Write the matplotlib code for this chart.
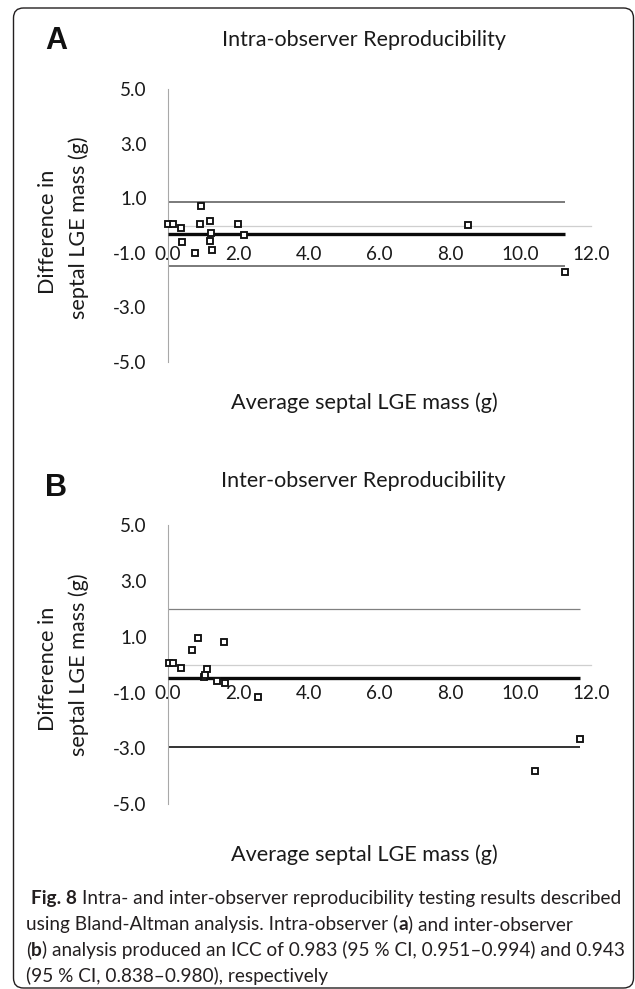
import matplotlib
matplotlib.use("Agg")
import matplotlib.pyplot as plt
from matplotlib.patches import FancyBboxPatch
from matplotlib.transforms import IdentityTransform
from matplotlib.ticker import FormatStrFormatter

plt.rcParams['axes.unicode_minus'] = False

# ---------------- data ----------------
intra_avg = [0.01, 0.13, 0.37, 0.39, 0.78, 0.94, 0.91, 1.19, 1.23, 1.20, 1.25, 1.99, 2.15, 8.50, 11.26]
intra_diff = [0.04, 0.04, -0.08, -0.62, -1.01, 0.71, 0.06, 0.16, -0.27, -0.58, -0.89, 0.04, -0.34, 0.02, -1.69]
intra_mean = -0.30
intra_upper = 0.86
intra_lower = -1.47

inter_avg = [0.02, 0.15, 0.38, 0.69, 0.86, 1.59, 1.10, 1.03, 1.06, 1.38, 1.62, 2.56, 10.40, 11.68]
inter_diff = [0.05, 0.05, -0.13, 0.53, 0.95, 0.80, -0.17, -0.43, -0.36, -0.60, -0.67, -1.15, -3.82, -2.66]
inter_mean = -0.49
inter_upper = 2.00
inter_lower = -2.96

x_ticks = [0, 2, 4, 6, 8, 10, 12]
y_ticks = [-5, -3, -1, 1, 3, 5]
titles = ["Intra-observer Reproducibility", "Inter-observer Reproducibility"]
panel_letters = ["A", "B"]
x_label = "Average septal LGE mass (g)"
y_label_lines = ["Difference in", "septal LGE mass (g)"]
caption_lines = [
    [("Fig. 8", True), (" Intra- and inter-observer reproducibility testing results described", False)],
    [("using Bland-Altman analysis. Intra-observer (", False), ("a", True), (") and inter-observer", False)],
    [("(", False), ("b", True), (") analysis produced an ICC of 0.983 (95 % CI, 0.951\u20130.994) and 0.943", False)],
    [("(95 % CI, 0.838\u20130.980), respectively", False)],
]

# ---------------- figure ----------------
W, H = 635, 989
DPI = 100
fig = plt.figure(figsize=(W / DPI, H / DPI), dpi=DPI)
fig.patch.set_facecolor("white")
renderer = fig.canvas.get_renderer()

CHART_FONT = ["Lato", "DejaVu Sans"]
CAP_FONT = ["Lato", "DejaVu Sans"]
LETTER_FONT = ["Liberation Sans", "DejaVu Sans"]
TXT = "#1a1a1a"
CAPC = "#231f20"


def fx(px):
    return px / W


def fy(py):
    return 1 - py / H


def measure(s, size, weight="normal", family=CHART_FONT):
    t = fig.text(0, 0, s, fontsize=size, fontweight=weight, family=family)
    w = t.get_window_extent(renderer).width
    t.remove()
    return w


def fit_size(s, target_w, weight="normal", family=CHART_FONT):
    return 10 * target_w / measure(s, 10, weight, family)


tick_size = fit_size("12.0", 37.5)
title_size = fit_size(titles[0], 285)
label_size = fit_size(x_label, 266)
letter_size = fit_size("A", 22, "bold", LETTER_FONT)

# frame
frame = FancyBboxPatch((13.5, H - 988), 620, 980,
                       boxstyle="round,pad=0,rounding_size=10",
                       transform=IdentityTransform(), fill=False,
                       ec=CAPC, lw=1.0)
fig.add_artist(frame)

panels = [
    dict(avg=intra_avg, diff=intra_diff, mean=intra_mean, up=intra_upper, lo=intra_lower,
         top=89, bot=362, up_style=dict(color="#7a7a7a", lw=1.4), lo_style=dict(color="#7a7a7a", lw=1.4),
         title_y=40, letter_y=41, xlabel_y=403, ylab_c=228),
    dict(avg=inter_avg, diff=inter_diff, mean=inter_mean, up=inter_upper, lo=inter_lower,
         top=525, bot=804.3, up_style=dict(color="#808080", lw=0.9), lo_style=dict(color="#111111", lw=1.2),
         title_y=481, letter_y=488, xlabel_y=855, ylab_c=665),
]

for i, p in enumerate(panels):
    ax = fig.add_axes([fx(168), fy(p["bot"]), 423 / W, (p["bot"] - p["top"]) / H])
    ax.set_xlim(0, 12)
    ax.set_ylim(-5, 5)
    ax.patch.set_alpha(0)
    for s in ("top", "right"):
        ax.spines[s].set_visible(False)
    ax.spines["bottom"].set_position(("data", 0))
    ax.spines["bottom"].set_color("#cfcfcf")
    ax.spines["bottom"].set_linewidth(0.9)
    ax.spines["left"].set_color("#a8a8a8")
    ax.spines["left"].set_linewidth(0.8)
    ax.set_xticks(x_ticks)
    ax.set_yticks(y_ticks)
    ax.xaxis.set_major_formatter(FormatStrFormatter("%.1f"))
    ax.yaxis.set_major_formatter(FormatStrFormatter("%.1f"))
    ax.tick_params(axis="both", length=0, labelsize=tick_size, labelcolor=TXT)
    ax.tick_params(axis="x", pad=14.5)
    ax.tick_params(axis="y", pad=15.5)
    for lab in ax.get_xticklabels() + ax.get_yticklabels():
        lab.set_family(CHART_FONT)
    xmax = max(p["avg"])
    ax.plot([0, xmax], [p["up"], p["up"]], solid_capstyle="butt", zorder=2, **p["up_style"])
    ax.plot([0, xmax], [p["lo"], p["lo"]], solid_capstyle="butt", zorder=2, **p["lo_style"])
    ax.plot([0, xmax], [p["mean"], p["mean"]], color="#0a0a0a", lw=2.4, solid_capstyle="butt", zorder=3)
    ax.plot(p["avg"], p["diff"], "s", ms=4.4, mfc="white", mec="#111111", mew=1.35,
            zorder=5, clip_on=False)

    fig.text(fx(363.5), fy(p["title_y"]), titles[i], fontsize=title_size, family=CHART_FONT,
             ha="center", va="center", color=TXT)
    fig.text(fx(56), fy(p["letter_y"]), panel_letters[i], fontsize=letter_size, family=LETTER_FONT,
             fontweight="bold", ha="center", va="center", color="#111111")
    fig.text(fx(364), fy(p["xlabel_y"]), x_label, fontsize=label_size, family=CHART_FONT,
             ha="center", va="center", color=TXT)
    fig.text(fx(48), fy(p["ylab_c"] + 4), y_label_lines[0], fontsize=label_size, family=CHART_FONT,
             rotation=90, ha="center", va="center", color=TXT)
    fig.text(fx(79), fy(p["ylab_c"]), y_label_lines[1], fontsize=label_size, family=CHART_FONT,
             rotation=90, ha="center", va="center", color=TXT)


# caption with mixed weights
def line_width(pieces, size):
    total = 0
    for s, b in pieces:
        lead = len(s) - len(s.lstrip(" "))
        wt = "bold" if b else "normal"
        if lead:
            total += lead * (measure("a a", size, wt, CAP_FONT) - measure("aa", size, wt, CAP_FONT))
        total += measure(s.lstrip(" "), size, wt, CAP_FONT)
    return total


cap_size = 10 * 591 / line_width(caption_lines[0], 10)
cap_x = [31, 26, 26, 26]
cap_base = [904, 930, 956, 982]
for pieces, x0, yb in zip(caption_lines, cap_x, cap_base):
    x = x0
    for s, b in pieces:
        wt = "bold" if b else "normal"
        lead = len(s) - len(s.lstrip(" "))
        if lead:
            x += lead * (measure("a a", cap_size, wt, CAP_FONT) - measure("aa", cap_size, wt, CAP_FONT))
        t = fig.text(fx(x), fy(yb), s.lstrip(" "), fontsize=cap_size, fontweight=wt,
                     family=CAP_FONT, ha="left", va="baseline", color=CAPC)
        x += t.get_window_extent(renderer).width

fig.savefig("out.png", dpi=DPI, facecolor="white")
